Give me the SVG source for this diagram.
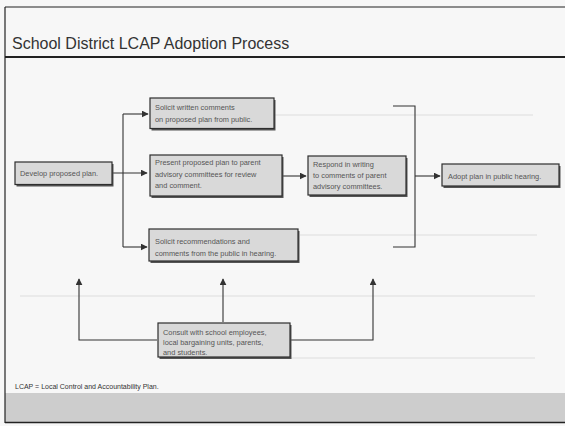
<svg xmlns="http://www.w3.org/2000/svg" width="565" height="426" viewBox="0 0 565 426">
<style>
.bg{fill:#f7f7f7}
.band{fill:#cdcdcd}
.rule{stroke:#222;fill:none}
.faint{stroke:#e6e6e6;stroke-width:1.5;fill:none}
.box{fill:#d9d9d9;stroke:#2e2e2e;stroke-width:1.2}
.shadow{fill:#555}
.t{font-family:"Liberation Sans",Arial,sans-serif;font-size:7.4px;fill:#555}
.title{font-family:"Liberation Sans",Arial,sans-serif;font-size:16px;fill:#333}
.foot{font-family:"Liberation Sans",Arial,sans-serif;font-size:7px;fill:#333}
.c{stroke:#333;stroke-width:1.1;fill:none}
</style>
<defs>
<marker id="ah" viewBox="0 0 10 10" refX="9" refY="5" markerWidth="7" markerHeight="7" markerUnits="userSpaceOnUse" orient="auto">
<path d="M0,0 L10,5 L0,10 Z" fill="#333"/>
</marker>
</defs>
<rect class="bg" x="0" y="0" width="565" height="426"/>
<rect class="band" x="5" y="393" width="560" height="29"/>
<line class="rule" x1="5" y1="7" x2="565" y2="7" stroke-width="1.2"/>
<line class="rule" x1="5" y1="57" x2="565" y2="57" stroke-width="2"/>
<line class="rule" x1="5" y1="7" x2="5" y2="423" stroke-width="1.2"/>
<line class="rule" x1="5" y1="422.5" x2="565" y2="422.5" stroke-width="1.5"/>
<line class="faint" x1="150" y1="115" x2="533" y2="115"/>
<line class="faint" x1="300" y1="235" x2="537" y2="235"/>
<line class="faint" x1="20" y1="296" x2="535" y2="296"/>
<line class="faint" x1="290" y1="358" x2="535" y2="358"/>
<text class="title" x="12" y="49">School District LCAP Adoption Process</text>

<g id="connectors">
<path class="c" d="M112,173 H147" marker-end="url(#ah)"/>
<path class="c" d="M123,114 V247"/>
<path class="c" d="M123,114 H148" marker-end="url(#ah)"/>
<path class="c" d="M123,247 H147" marker-end="url(#ah)"/>
<path class="c" d="M283,176 H306" marker-end="url(#ah)"/>
<path class="c" d="M393,106 H415 V247 H393" stroke-width="1.4"/>
<path class="c" d="M415,176 H440" marker-end="url(#ah)"/>
<path class="c" d="M157,340 H79 V279" marker-end="url(#ah)"/>
<path class="c" d="M223,322 V279" marker-end="url(#ah)"/>
<path class="c" d="M290,340 H373 V279" marker-end="url(#ah)"/>
</g>

<g id="develop">
<rect class="shadow" x="16.5" y="164" width="97" height="22.5"/>
<rect class="box" x="15" y="162" width="97" height="22.5"/>
<text class="t" x="20" y="176">Develop proposed plan.</text>
</g>

<g id="solicit-written">
<rect class="shadow" x="151.5" y="100" width="124" height="30.5"/>
<rect class="box" x="150" y="98" width="124" height="30.5"/>
<text class="t" x="155" y="110">Solicit written comments</text>
<text class="t" x="155" y="122">on proposed plan from public.</text>
</g>

<g id="present">
<rect class="shadow" x="151.5" y="157" width="132" height="41"/>
<rect class="box" x="150" y="155" width="132" height="41"/>
<text class="t" x="155" y="165">Present proposed plan to parent</text>
<text class="t" x="155" y="176.5">advisory committees for review</text>
<text class="t" x="155" y="188">and comment.</text>
</g>

<g id="solicit-recs">
<rect class="shadow" x="150.5" y="231" width="149" height="32"/>
<rect class="box" x="149" y="229" width="149" height="32"/>
<text class="t" x="155" y="244">Solicit recommendations and</text>
<text class="t" x="155" y="255.5">comments from the public in hearing.</text>
</g>

<g id="respond">
<rect class="shadow" x="309.5" y="158" width="98" height="39"/>
<rect class="box" x="308" y="156" width="98" height="39"/>
<text class="t" x="313" y="166.5">Respond in writing</text>
<text class="t" x="313" y="177.5">to comments of parent</text>
<text class="t" x="313" y="188.5">advisory committees.</text>
</g>

<g id="adopt">
<rect class="shadow" x="443.5" y="166" width="117" height="22"/>
<rect class="box" x="442" y="164" width="117" height="22"/>
<text class="t" x="448" y="178.5">Adopt plan in public hearing.</text>
</g>

<g id="consult">
<rect class="shadow" x="159.5" y="325" width="132" height="34"/>
<rect class="box" x="158" y="323" width="132" height="34"/>
<text class="t" x="163" y="335">Consult with school employees,</text>
<text class="t" x="163" y="345">local bargaining units, parents,</text>
<text class="t" x="163" y="355">and students.</text>
</g>

<text class="foot" x="15" y="389">LCAP = Local Control and Accountability Plan.</text>
</svg>
